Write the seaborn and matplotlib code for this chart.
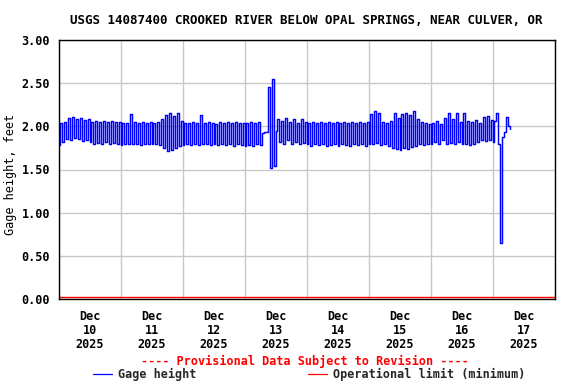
import matplotlib
matplotlib.use("Agg")
import matplotlib.pyplot as plt
import matplotlib.dates as mdates
from matplotlib.lines import Line2D
import numpy as np
import pandas as pd
import seaborn as sns

# ---- data: gage height (ft), one reading every 45 minutes, per day ----
dec10 = [1.78, 2.04, 1.82, 2.05, 1.85, 2.10, 1.84, 2.11, 1.86, 2.08,
         1.85, 2.10, 1.83, 2.07, 1.84, 2.09, 1.82, 2.05, 1.80, 2.06,
         1.81, 2.05, 1.80, 2.06, 1.82, 2.05, 1.80, 2.06, 1.81, 2.05,
         1.80, 2.05]
dec11 = [1.78, 2.04, 1.79, 2.04, 1.80, 2.14, 1.79, 2.05, 1.80, 2.04,
         1.78, 2.05, 1.79, 2.04, 1.80, 2.05, 1.79, 2.04, 1.80, 2.05,
         1.78, 2.08, 1.75, 2.13, 1.72, 2.15, 1.73, 2.12, 1.75, 2.15,
         1.77, 2.06]
dec12 = [1.78, 2.04, 1.79, 2.04, 1.78, 2.05, 1.80, 2.04, 1.78, 2.13,
         1.79, 2.04, 1.80, 2.05, 1.78, 2.04, 1.79, 2.03, 1.78, 2.05,
         1.80, 2.04, 1.78, 2.05, 1.79, 2.04, 1.77, 2.05, 1.80, 2.04,
         1.78, 2.04]
dec13 = [1.77, 2.04, 1.78, 2.05, 1.77, 2.04, 1.79, 2.05, 1.78, 1.92,
         1.93, 1.94, 2.46, 1.52, 2.55, 1.54, 1.95, 2.09, 1.82, 2.06,
         1.80, 2.10, 1.84, 2.05, 1.79, 2.08, 1.82, 2.04, 1.80, 2.09,
         1.81, 2.05]
dec14 = [1.79, 2.04, 1.77, 2.05, 1.80, 2.04, 1.78, 2.05, 1.79, 2.04,
         1.77, 2.05, 1.78, 2.04, 1.80, 2.05, 1.77, 2.04, 1.79, 2.05,
         1.78, 2.04, 1.77, 2.05, 1.80, 2.04, 1.78, 2.05, 1.79, 2.04,
         1.77, 2.05]
dec15 = [1.80, 2.14, 1.79, 2.18, 1.81, 2.15, 1.78, 2.05, 1.79, 2.04,
         1.77, 2.06, 1.75, 2.15, 1.74, 2.10, 1.73, 2.14, 1.75, 2.15,
         1.74, 2.13, 1.76, 2.18, 1.77, 2.08, 1.79, 2.05, 1.78, 2.04,
         1.80, 2.03]
dec16 = [1.80, 2.04, 1.82, 2.06, 1.80, 2.03, 1.84, 2.10, 1.80, 2.16,
         1.81, 2.09, 1.79, 2.16, 1.82, 2.05, 1.79, 2.15, 1.80, 2.06,
         1.78, 2.05, 1.79, 2.07, 1.82, 2.04, 1.84, 2.11, 1.83, 2.12,
         1.84, 2.07]
dec17 = [1.82, 2.06, 2.16, 1.80, 0.65, 1.88, 1.93, 2.11, 2.00, 1.97]

start_time = "2025-12-10 00:00"
end_time = "2025-12-18 00:00"
step = "45min"

limit_values = [0.02, 0.02]   # operational limit (minimum), ft

title = "USGS 14087400 CROOKED RIVER BELOW OPAL SPRINGS, NEAR CULVER, OR"
ylabel = "Gage height, feet"
provisional = "---- Provisional Data Subject to Revision ----"
legend_labels = ["Gage height", "Operational limit (minimum)"]
yticks = [0.0, 0.5, 1.0, 1.5, 2.0, 2.5, 3.0]

# ---- build tables ----
gage = dec10 + dec11 + dec12 + dec13 + dec14 + dec15 + dec16 + dec17
times = pd.date_range(start_time, periods=len(gage), freq=step)
df = pd.DataFrame({"time": times, "gage": gage})
lim = pd.DataFrame({"time": pd.to_datetime([start_time, end_time]),
                    "limit": limit_values})

sns.set_theme(style="white")
plt.rcParams["font.family"] = ["DejaVu Sans Mono"]
plt.rcParams["font.weight"] = "bold"

fig = plt.figure(figsize=(5.76, 3.84), dpi=100)
fig.patch.set_facecolor("white")
ax = fig.add_axes([58.5 / 576, 1 - 299 / 384, 496 / 576, 259 / 384])

sns.lineplot(data=df, x="time", y="gage", ax=ax, color="#0000ff",
             linewidth=1.05, drawstyle="steps-post", estimator=None,
             sort=False, legend=False)
sns.lineplot(data=lim, x="time", y="limit", ax=ax, color="#ff0000",
             linewidth=1.0, estimator=None, sort=False, legend=False)

ax.set_xlim(pd.Timestamp(start_time), pd.Timestamp(end_time))
ax.set_ylim(0, 3.0)
ax.set_yticks(yticks)
ax.set_yticklabels([f"{v:.2f}" for v in yticks])

noon_ticks = pd.date_range("2025-12-10 12:00", periods=8, freq="1D")
ax.set_xticks(noon_ticks)
ax.set_xticklabels([t.strftime("%b\n%d\n%Y") for t in noon_ticks],
                   linespacing=1.1)
ax.xaxis.set_minor_locator(mdates.DayLocator())

ax.grid(False)
ax.grid(which="minor", axis="x", color="#c8c8c8", lw=1.0)
ax.grid(which="major", axis="y", color="#c8c8c8", lw=1.0)
ax.set_axisbelow(True)

ax.tick_params(axis="both", which="both", length=0, labelsize=8.5,
               colors="black")
ax.tick_params(axis="y", pad=6)
ax.tick_params(axis="x", pad=8)
for s in ax.spines.values():
    s.set_color("black")
    s.set_linewidth(1.0)

ax.set_xlabel("")
ax.set_ylabel(ylabel, fontsize=8.5, color="black")
ax.yaxis.set_label_coords((17.5 - 58.5) / 496, 0.48)

fig.text(306 / 576, 1 - 21 / 384, title, ha="center", va="center",
         fontsize=9, color="black")
fig.text(305 / 576, 1 - 361 / 384, provisional, ha="center", va="center",
         fontsize=8.5, color="#ff0000")

handles = [Line2D([], [], color="#0000ff", lw=0.9),
           Line2D([], [], color="#ff0000", lw=0.9)]
fig.legend(handles, legend_labels, loc="center",
           bbox_to_anchor=(309 / 576, 1 - 374.5 / 384), ncol=2,
           frameon=False, fontsize=8.5, handlelength=1.6,
           handletextpad=0.5, columnspacing=9.5, borderpad=0,
           borderaxespad=0)

fig.savefig("out.png", dpi=100, facecolor="white")
